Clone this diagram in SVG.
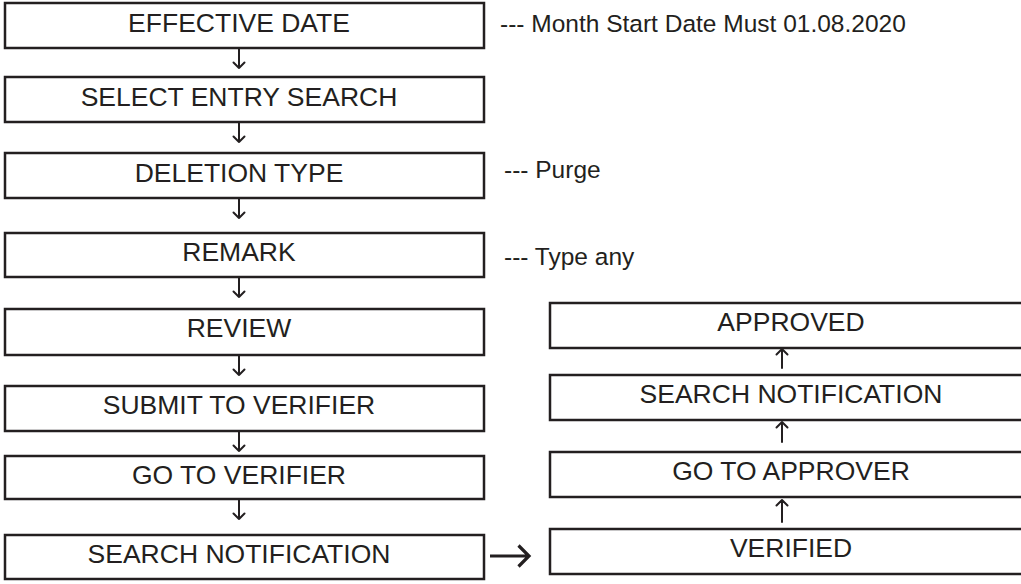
<svg xmlns="http://www.w3.org/2000/svg" width="1021" height="584" viewBox="0 0 1021 584">
<defs>
<style>
.box{fill:#fff;stroke:#231f20;stroke-width:2.5}
.t{font-family:"Liberation Sans",Arial,sans-serif;font-size:26.5px;fill:#231f20;text-anchor:middle}
.n{font-family:"Liberation Sans",Arial,sans-serif;font-size:24.5px;fill:#231f20}
.a{fill:none;stroke:#231f20;stroke-width:2;stroke-linecap:round;stroke-linejoin:round}
.a3{fill:none;stroke:#231f20;stroke-width:3.2;stroke-linejoin:miter}
</style>
</defs>
<rect width="1021" height="584" fill="#fff"/>
<g id="n1"><rect class="box" x="5" y="3" width="479" height="45"/><text class="t" x="239" y="32">EFFECTIVE DATE</text></g>
<g id="n2"><rect class="box" x="5" y="77" width="479" height="45"/><text class="t" x="239" y="106">SELECT ENTRY SEARCH</text></g>
<g id="n3"><rect class="box" x="5" y="153" width="479" height="45"/><text class="t" x="239" y="182">DELETION TYPE</text></g>
<g id="n4"><rect class="box" x="5" y="233" width="479" height="44"/><text class="t" x="239" y="261">REMARK</text></g>
<g id="n5"><rect class="box" x="5" y="309" width="479" height="46"/><text class="t" x="239" y="337">REVIEW</text></g>
<g id="n6"><rect class="box" x="5" y="386" width="479" height="45"/><text class="t" x="239" y="414">SUBMIT TO VERIFIER</text></g>
<g id="n7"><rect class="box" x="5" y="456" width="479" height="43"/><text class="t" x="239" y="484">GO TO VERIFIER</text></g>
<g id="n8"><rect class="box" x="5" y="535" width="479" height="44"/><text class="t" x="239" y="563">SEARCH NOTIFICATION</text></g>
<g id="r1"><rect class="box" x="550" y="303" width="500" height="45"/><text class="t" x="791" y="331">APPROVED</text></g>
<g id="r2"><rect class="box" x="550" y="375" width="500" height="45"/><text class="t" x="791" y="403">SEARCH NOTIFICATION</text></g>
<g id="r3"><rect class="box" x="550" y="452" width="500" height="45"/><text class="t" x="791" y="480">GO TO APPROVER</text></g>
<g id="r4"><rect class="box" x="550" y="529" width="500" height="45"/><text class="t" x="791" y="557">VERIFIED</text></g>
<g id="notes">
<text class="n" x="500" y="32">--- Month Start Date Must 01.08.2020</text>
<text class="n" x="504" y="178">--- Purge</text>
<text class="n" x="504" y="265">--- Type any</text>
</g>
<g id="connectors">
<path class="a" d="M239 49V68M233.5 62.5L239 68L244.5 62.5"/>
<path class="a" d="M239 123V142M233.5 136.5L239 142L244.5 136.5"/>
<path class="a" d="M239 199V218M233.5 212.5L239 218L244.5 212.5"/>
<path class="a" d="M239 278V297M233.5 291.5L239 297L244.5 291.5"/>
<path class="a" d="M239 356V375M233.5 369.5L239 375L244.5 369.5"/>
<path class="a" d="M239 432V451M233.5 445.5L239 451L244.5 445.5"/>
<path class="a" d="M239 500V519M233.5 513.5L239 519L244.5 513.5"/>
<path class="a" d="M782 368V349M776.5 354.5L782 349L787.5 354.5"/>
<path class="a" d="M782 442V422M776.5 427.5L782 422L787.5 427.5"/>
<path class="a" d="M782 522V500M776.5 505.5L782 500L787.5 505.5"/>
<path class="a3" d="M490 556H529M518.5 545.5L529 556L518.5 566.5"/>
</g>
</svg>
